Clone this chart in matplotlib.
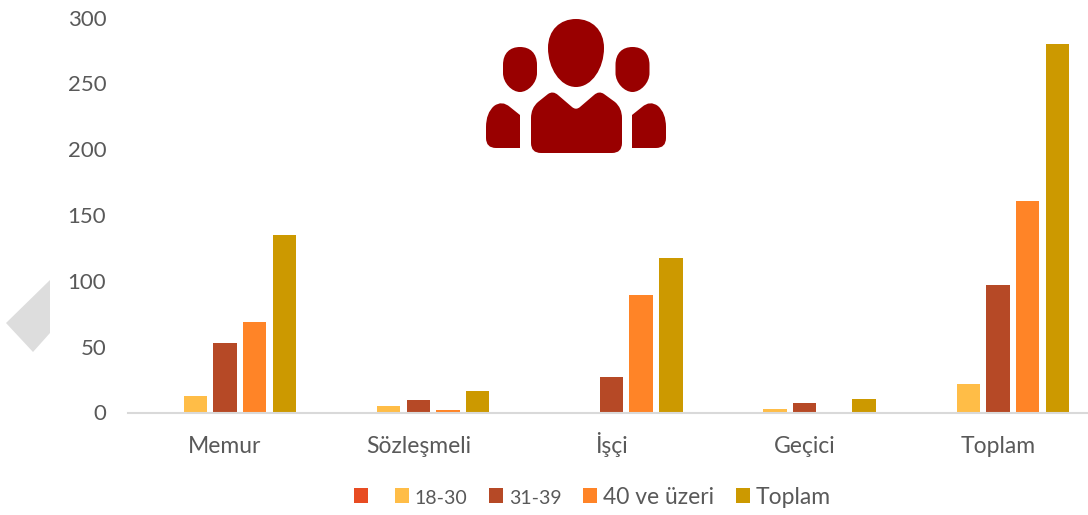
import numpy as np
import matplotlib
matplotlib.use('Agg')
import matplotlib.pyplot as plt
from matplotlib.patches import PathPatch, Polygon
from matplotlib.path import Path

plt.rcParams['font.family'] = ['Lato', 'DejaVu Sans']

categories = ['Memur', 'Sözleşmeli', 'İşçi', 'Geçici', 'Toplam']
series_names = ['', '18-30', '31-39', '40 ve üzeri', 'Toplam']
blank = [0, 0, 0, 0, 0]
age_18_30 = [12.5, 5, 0.5, 3, 22]
age_31_39 = [53, 9.5, 27, 7, 97]
age_40_up = [69, 2, 89, 0, 161]
total = [135, 16.5, 117, 10, 280]
colors = ['#E84C22', '#FFBD47', '#B64926', '#FF8427', '#CC9900']

W, H = 1088, 515
fig = plt.figure(figsize=(W / 100, H / 100), dpi=100)
ax = fig.add_axes([128.4 / W, 1 - 412.5 / H, 966.2 / W, 395 / H])

# five bars per group, first series is empty
x = np.arange(len(categories))
step = 0.1537
bars = []
for i, vals in enumerate([blank, age_18_30, age_31_39, age_40_up, total]):
    bars.append(ax.bar(x + (i - 2) * step, vals, width=0.1216, color=colors[i], zorder=2))

ax.set_xlim(-0.5, 4.5)
ax.set_ylim(0, 300)
ax.set_yticks(range(0, 301, 50))
ax.set_xticks(x)
ax.set_xticklabels(categories)
ax.tick_params(axis='y', length=0, pad=16, labelsize=16, labelcolor='#595959')
ax.tick_params(axis='x', length=0, pad=29, labelsize=16.5, labelcolor='#595959')
# baseline alignment, the dotted capital pushes İşçi down otherwise
for lab in ax.get_xticklabels():
    lab.set_va('baseline')
for s in ['top', 'right', 'left']:
    ax.spines[s].set_visible(False)
ax.spines['bottom'].set_color('#D9D9D9')
ax.spines['bottom'].set_linewidth(1.5)
ax.spines['bottom'].set_zorder(3)

leg = fig.legend(
    [b[0] for b in bars], series_names, ncol=5, frameon=False, fontsize=16.5,
    labelcolor='#595959', handlelength=0.61, handleheight=0.61, handletextpad=0.24,
    columnspacing=0.96, borderpad=0, borderaxespad=0,
    loc='center', bbox_to_anchor=(592 / W, 1 - 497 / H),
)
# digits run narrow in the original font
for t in leg.get_texts():
    if t.get_text()[:1].isdigit() and 'v' not in t.get_text():
        t.set_fontsize(14)

# overlay in pixel coordinates for the decorations
deco = fig.add_axes([0, 0, 1, 1], facecolor='none')
deco.set_xlim(0, W)
deco.set_ylim(H, 0)
deco.axis('off')

deco.add_patch(Polygon([(50, 280), (6, 323), (33, 352), (50, 333)], color='#DDDDDD', lw=0))

M, L, Q, C, Z = Path.MOVETO, Path.LINETO, Path.CURVE3, Path.CURVE4, Path.CLOSEPOLY
icon = '#990000'


def side_head(dx):
    verts = [(503, 65), (503, 53), (510, 47), (520, 47), (530, 47), (537, 53), (537, 65),
             (537, 73), (537, 83), (528, 92), (520, 92), (512, 92), (503, 83), (503, 73),
             (503, 65), (503, 65)]
    codes = [M, C, C, C, C, C, C, L, C, C, C, C, C, C, L, Z]
    return Path([(vx + dx, vy) for vx, vy in verts], codes)


deco.add_patch(PathPatch(side_head(0), fc=icon, lw=0))
deco.add_patch(PathPatch(side_head(112.5), fc=icon, lw=0))

head = Path(
    [(548, 48), (548, 30), (560, 19), (576, 19), (592, 19), (604, 30), (604, 48),
     (604, 68), (592, 87), (576, 87), (560, 87), (548, 68), (548, 48), (548, 48)],
    [M, C, C, C, C, C, C, C, C, C, C, C, C, Z])
deco.add_patch(PathPatch(head, fc=icon, lw=0))

# body with v-neck
body = Path(
    [(531, 118), (531, 108), (538, 102), (548, 94), (553, 90.5), (558, 95), (572, 107),
     (576, 110.5), (580, 107), (594, 95), (599, 90.5), (604, 94), (615, 102),
     (622, 108), (622, 118), (622, 143), (622, 153), (612, 153), (541, 153),
     (531, 153), (531, 143), (531, 118), (531, 118)],
    [M, Q, Q, L, Q, Q, L, Q, Q, L, Q, Q, L, Q, Q, L, Q, Q, L, Q, Q, L, Z])
deco.add_patch(PathPatch(body, fc=icon, lw=0))

# side shoulders
left = Path(
    [(520, 115), (510, 107), (502, 100), (494, 106), (486, 113), (486, 127), (486, 138),
     (486, 148), (496, 148), (520, 148), (520, 115)],
    [M, L, Q, Q, Q, Q, L, Q, Q, L, Z])
deco.add_patch(PathPatch(left, fc=icon, lw=0))
right = Path([(1152 - v[0], v[1]) for v in left.vertices], left.codes)
deco.add_patch(PathPatch(right, fc=icon, lw=0))

fig.savefig('out.png', dpi=100)
